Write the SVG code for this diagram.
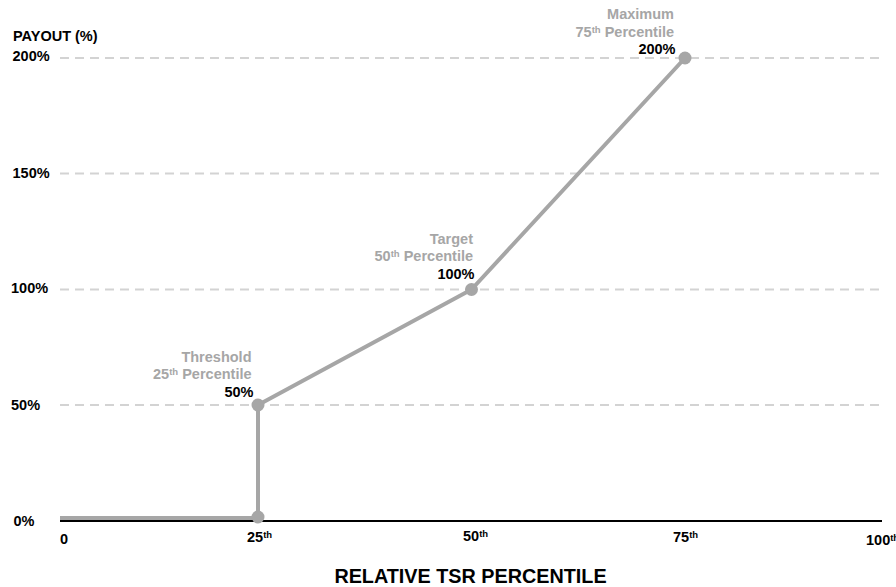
<svg xmlns="http://www.w3.org/2000/svg" width="896" height="587" viewBox="0 0 896 587">
  <style>
    text { font-family: "Liberation Sans", Arial, sans-serif; font-weight: bold; }
    .lbl { font-size: 14.5px; fill: #000; }
    .ann { font-size: 14.5px; fill: #a6a6a6; text-anchor: end; }
    .val { font-size: 14.5px; fill: #000; text-anchor: end; }
    .sup { font-size: 9.5px; }
    .grid { stroke: #d3d3d3; stroke-width: 2; stroke-dasharray: 9 6; fill: none; }
    .curve { stroke: #a6a6a6; stroke-width: 4; fill: none; stroke-linejoin: round; }
    .dot { fill: #a6a6a6; }
    .title { font-size: 19.8px; fill: #000; text-anchor: middle; }
  </style>
  <rect width="896" height="587" fill="#fff"/>

  <g id="gridlines">
    <line class="grid" x1="60" y1="58" x2="882" y2="58"/>
    <line class="grid" x1="60" y1="173.5" x2="882" y2="173.5"/>
    <line class="grid" x1="60" y1="289.5" x2="882" y2="289.5"/>
    <line class="grid" x1="60" y1="405" x2="882" y2="405"/>
  </g>

  <g id="x-axis">
    <line x1="60" y1="521" x2="882" y2="521" stroke="#000" stroke-width="2"/>
  </g>

  <g id="y-labels">
    <text class="lbl" x="13" y="40.5">PAYOUT (%)</text>
    <text class="lbl" x="12.5" y="60.5">200%</text>
    <text class="lbl" x="12.5" y="177.5">150%</text>
    <text class="lbl" x="11" y="293">100%</text>
    <text class="lbl" x="11" y="410">50%</text>
    <text class="lbl" x="13.5" y="526">0%</text>
  </g>

  <g id="x-labels">
    <text class="lbl" x="60" y="544">0</text>
    <text class="lbl" x="247" y="541.5">25<tspan class="sup" dy="-4">th</tspan></text>
    <text class="lbl" x="463" y="540.5">50<tspan class="sup" dy="-4">th</tspan></text>
    <text class="lbl" x="673" y="541.5">75<tspan class="sup" dy="-4">th</tspan></text>
    <text class="lbl" x="866" y="545">100<tspan class="sup" dy="-4">th</tspan></text>
  </g>

  <g id="connectors">
    <polyline class="curve" points="60,518 258,518 258,405 471.5,289.5 685,58"/>
  </g>

  <g id="node-zero">
    <circle class="dot" cx="258" cy="517" r="6.5"/>
  </g>

  <g id="node-threshold">
    <circle class="dot" cx="258" cy="405" r="6.5"/>
    <text class="ann" x="251.5" y="362">Threshold</text>
    <text class="ann" x="251.5" y="379">25<tspan class="sup" dy="-4">th</tspan><tspan dy="4"> Percentile</tspan></text>
    <text class="val" x="253.5" y="396.5">50%</text>
  </g>

  <g id="node-target">
    <circle class="dot" cx="471.5" cy="289.5" r="6.5"/>
    <text class="ann" x="473" y="243.5">Target</text>
    <text class="ann" x="473" y="260.5">50<tspan class="sup" dy="-4">th</tspan><tspan dy="4"> Percentile</tspan></text>
    <text class="val" x="474.5" y="279">100%</text>
  </g>

  <g id="node-maximum">
    <circle class="dot" cx="685" cy="58" r="6.5"/>
    <text class="ann" x="674" y="18.5">Maximum</text>
    <text class="ann" x="674" y="36.5">75<tspan class="sup" dy="-4">th</tspan><tspan dy="4"> Percentile</tspan></text>
    <text class="val" x="675.5" y="53.5">200%</text>
  </g>

  <g id="axis-title">
    <text class="title" x="470.5" y="583">RELATIVE TSR PERCENTILE</text>
  </g>
</svg>
